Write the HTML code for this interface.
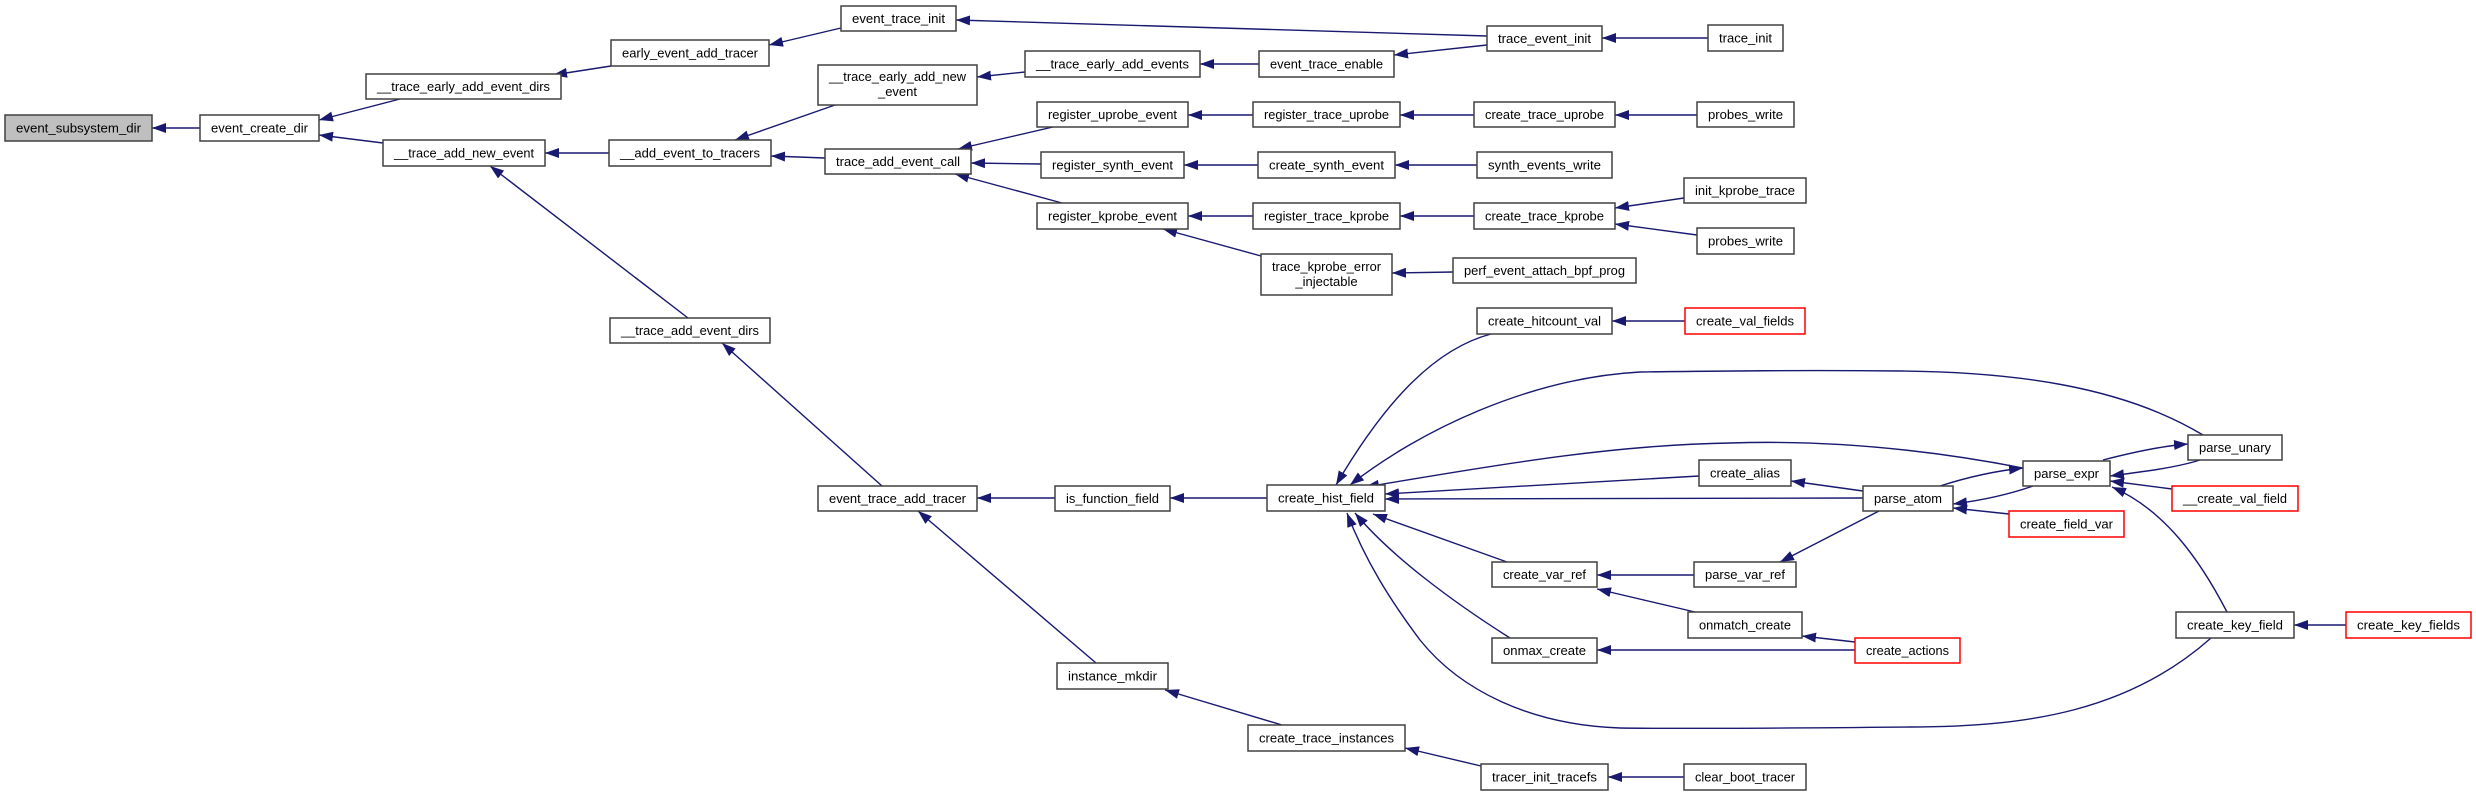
<!DOCTYPE html>
<html><head><meta charset="utf-8"><style>
html,body{margin:0;padding:0;background:#fff;}
svg{display:block;}
text{font-family:"Liberation Sans",sans-serif;font-size:13px;fill:#000;}
.n{fill:#fff;stroke:#404040;stroke-width:1.5;}
.g{fill:#bfbfbf;stroke:#404040;stroke-width:1.5;}
.r{fill:#fff;stroke:#ff0000;stroke-width:1.5;}
.e{fill:none;stroke:#191970;stroke-width:1.4;marker-end:url(#a);}
</style></head><body>
<svg width="2476" height="796" viewBox="0 0 2476 796" xmlns="http://www.w3.org/2000/svg">
<defs><marker id="a" markerUnits="userSpaceOnUse" markerWidth="14" markerHeight="10" viewBox="0 0 14 10" refX="14" refY="5" orient="auto"><path d="M0,0 L14,5 L0,10 z" fill="#191970"/></marker></defs>
<g>
<path class="e" d="M200,128 L152,128"/>
<path class="e" d="M400,99 L319,120"/>
<path class="e" d="M383,143 L319,135"/>
<path class="e" d="M611,66 L553,75"/>
<path class="e" d="M841,28 L769,45"/>
<path class="e" d="M1487,36 L956,20"/>
<path class="e" d="M1708,38 L1602,38"/>
<path class="e" d="M1487,45 L1394,55"/>
<path class="e" d="M1259,64 L1200,64"/>
<path class="e" d="M1025,72 L977,77"/>
<path class="e" d="M835,105 L735,140"/>
<path class="e" d="M609,153 L545,153"/>
<path class="e" d="M825,158 L771,156"/>
<path class="e" d="M1053,127 L958,149"/>
<path class="e" d="M1041,164 L971,163"/>
<path class="e" d="M1062,203 L955,174"/>
<path class="e" d="M1253,115 L1188,115"/>
<path class="e" d="M1474,115 L1400,115"/>
<path class="e" d="M1697,115 L1615,115"/>
<path class="e" d="M1258,165 L1184,165"/>
<path class="e" d="M1477,165 L1395,165"/>
<path class="e" d="M1253,216 L1188,216"/>
<path class="e" d="M1474,216 L1400,216"/>
<path class="e" d="M1684,198 L1615,208"/>
<path class="e" d="M1697,235 L1615,224"/>
<path class="e" d="M1261,256 L1163,229"/>
<path class="e" d="M1453,272 L1392,273"/>
<path class="e" d="M688,318 L490,166"/>
<path class="e" d="M882,486 L722,343"/>
<path class="e" d="M1055,498 L977,498"/>
<path class="e" d="M1267,498 L1170,498"/>
<path class="e" d="M1096,663 L918,511"/>
<path class="e" d="M1282,725 L1165,690"/>
<path class="e" d="M1481,766 L1405,748"/>
<path class="e" d="M1684,777 L1608,777"/>
<path class="e" d="M1491,334 C1430,350 1380,410 1336,485"/>
<path class="e" d="M1685,321 L1612,321"/>
<path class="e" d="M2203,435 C2120,385 2010,372 1900,371 C1800,370 1720,371 1640,372 C1530,378 1420,430 1350,485"/>
<path class="e" d="M2023,468 C1920,448 1820,440 1730,443 C1600,445 1470,470 1365,487"/>
<path class="e" d="M1699,476 L1385,494"/>
<path class="e" d="M1863,498 L1385,499"/>
<path class="e" d="M1507,562 L1373,514"/>
<path class="e" d="M1510,638 C1450,600 1390,555 1355,513"/>
<path class="e" d="M2211,638 C2130,710 2030,727 1910,727 C1800,728 1680,729 1620,728 C1530,725 1460,690 1420,640 C1390,600 1365,560 1347,513"/>
<path class="e" d="M1863,491 L1791,481"/>
<path class="e" d="M2033,486 C2010,494 1985,500 1953,504"/>
<path class="e" d="M1940,486 C1965,478 1995,471 2023,468"/>
<path class="e" d="M2103,460 C2130,453 2160,446 2188,444"/>
<path class="e" d="M2200,460 C2175,468 2140,472 2110,476"/>
<path class="e" d="M2172,489 L2110,481"/>
<path class="e" d="M2227,612 C2200,560 2165,510 2112,487"/>
<path class="e" d="M2009,514 L1953,508"/>
<path class="e" d="M1879,511 L1780,562"/>
<path class="e" d="M1695,575 L1597,575"/>
<path class="e" d="M1695,612 L1597,589"/>
<path class="e" d="M1855,642 L1802,636"/>
<path class="e" d="M1855,650 L1597,650"/>
<path class="e" d="M2346,625 L2294,625"/>
</g>
<g>
<rect class="g" x="5" y="115" width="147" height="26"/><text x="78.5" y="132.5" text-anchor="middle" textLength="125" lengthAdjust="spacingAndGlyphs">event_subsystem_dir</text>
<rect class="n" x="200" y="115" width="119" height="26"/><text x="259.5" y="132.5" text-anchor="middle" textLength="97" lengthAdjust="spacingAndGlyphs">event_create_dir</text>
<rect class="n" x="366" y="74" width="195" height="25"/><text x="463.5" y="91" text-anchor="middle" textLength="173" lengthAdjust="spacingAndGlyphs">__trace_early_add_event_dirs</text>
<rect class="n" x="611" y="40" width="158" height="26"/><text x="690" y="57.5" text-anchor="middle" textLength="136" lengthAdjust="spacingAndGlyphs">early_event_add_tracer</text>
<rect class="n" x="383" y="140" width="162" height="26"/><text x="464" y="157.5" text-anchor="middle" textLength="140" lengthAdjust="spacingAndGlyphs">__trace_add_new_event</text>
<rect class="n" x="609" y="140" width="162" height="26"/><text x="690" y="157.5" text-anchor="middle" textLength="140" lengthAdjust="spacingAndGlyphs">__add_event_to_tracers</text>
<rect class="n" x="610" y="318" width="160" height="25"/><text x="690" y="335" text-anchor="middle" textLength="138" lengthAdjust="spacingAndGlyphs">__trace_add_event_dirs</text>
<rect class="n" x="841" y="6" width="115" height="25"/><text x="898.5" y="23" text-anchor="middle" textLength="93" lengthAdjust="spacingAndGlyphs">event_trace_init</text>
<rect class="n" x="1487" y="26" width="115" height="25"/><text x="1544.5" y="43" text-anchor="middle" textLength="93" lengthAdjust="spacingAndGlyphs">trace_event_init</text>
<rect class="n" x="1025" y="51" width="175" height="26"/><text x="1112.5" y="68.5" text-anchor="middle" textLength="153" lengthAdjust="spacingAndGlyphs">__trace_early_add_events</text>
<rect class="n" x="1259" y="51" width="135" height="26"/><text x="1326.5" y="68.5" text-anchor="middle" textLength="113" lengthAdjust="spacingAndGlyphs">event_trace_enable</text>
<rect class="n" x="818" y="65" width="159" height="40"/><text x="897.5" y="81" text-anchor="middle" textLength="137" lengthAdjust="spacingAndGlyphs">__trace_early_add_new</text><text x="897.5" y="96" text-anchor="middle">_event</text>
<rect class="n" x="1037" y="102" width="151" height="25"/><text x="1112.5" y="119" text-anchor="middle" textLength="129" lengthAdjust="spacingAndGlyphs">register_uprobe_event</text>
<rect class="n" x="1253" y="102" width="147" height="25"/><text x="1326.5" y="119" text-anchor="middle" textLength="125" lengthAdjust="spacingAndGlyphs">register_trace_uprobe</text>
<rect class="n" x="1474" y="102" width="141" height="25"/><text x="1544.5" y="119" text-anchor="middle" textLength="119" lengthAdjust="spacingAndGlyphs">create_trace_uprobe</text>
<rect class="n" x="825" y="149" width="146" height="25"/><text x="898" y="166" text-anchor="middle" textLength="124" lengthAdjust="spacingAndGlyphs">trace_add_event_call</text>
<rect class="n" x="1041" y="152" width="143" height="26"/><text x="1112.5" y="169.5" text-anchor="middle" textLength="121" lengthAdjust="spacingAndGlyphs">register_synth_event</text>
<rect class="n" x="1258" y="152" width="137" height="26"/><text x="1326.5" y="169.5" text-anchor="middle" textLength="115" lengthAdjust="spacingAndGlyphs">create_synth_event</text>
<rect class="n" x="1477" y="152" width="135" height="26"/><text x="1544.5" y="169.5" text-anchor="middle" textLength="113" lengthAdjust="spacingAndGlyphs">synth_events_write</text>
<rect class="n" x="1037" y="203" width="151" height="26"/><text x="1112.5" y="220.5" text-anchor="middle" textLength="129" lengthAdjust="spacingAndGlyphs">register_kprobe_event</text>
<rect class="n" x="1253" y="203" width="147" height="26"/><text x="1326.5" y="220.5" text-anchor="middle" textLength="125" lengthAdjust="spacingAndGlyphs">register_trace_kprobe</text>
<rect class="n" x="1474" y="203" width="141" height="26"/><text x="1544.5" y="220.5" text-anchor="middle" textLength="119" lengthAdjust="spacingAndGlyphs">create_trace_kprobe</text>
<rect class="n" x="1261" y="254" width="131" height="41"/><text x="1326.5" y="271" text-anchor="middle" textLength="109" lengthAdjust="spacingAndGlyphs">trace_kprobe_error</text><text x="1326.5" y="286" text-anchor="middle">_injectable</text>
<rect class="n" x="1453" y="258" width="183" height="25"/><text x="1544.5" y="275" text-anchor="middle" textLength="161" lengthAdjust="spacingAndGlyphs">perf_event_attach_bpf_prog</text>
<rect class="n" x="1477" y="308" width="135" height="26"/><text x="1544.5" y="325.5" text-anchor="middle" textLength="113" lengthAdjust="spacingAndGlyphs">create_hitcount_val</text>
<rect class="n" x="1708" y="25" width="75" height="26"/><text x="1745.5" y="42.5" text-anchor="middle" textLength="53" lengthAdjust="spacingAndGlyphs">trace_init</text>
<rect class="n" x="1697" y="102" width="97" height="25"/><text x="1745.5" y="119" text-anchor="middle" textLength="75" lengthAdjust="spacingAndGlyphs">probes_write</text>
<rect class="n" x="1684" y="178" width="122" height="25"/><text x="1745" y="195" text-anchor="middle" textLength="100" lengthAdjust="spacingAndGlyphs">init_kprobe_trace</text>
<rect class="n" x="1697" y="228" width="97" height="26"/><text x="1745.5" y="245.5" text-anchor="middle" textLength="75" lengthAdjust="spacingAndGlyphs">probes_write</text>
<rect class="r" x="1685" y="308" width="120" height="26"/><text x="1745" y="325.5" text-anchor="middle" textLength="98" lengthAdjust="spacingAndGlyphs">create_val_fields</text>
<rect class="n" x="818" y="486" width="159" height="25"/><text x="897.5" y="503" text-anchor="middle" textLength="137" lengthAdjust="spacingAndGlyphs">event_trace_add_tracer</text>
<rect class="n" x="1055" y="486" width="115" height="25"/><text x="1112.5" y="503" text-anchor="middle" textLength="93" lengthAdjust="spacingAndGlyphs">is_function_field</text>
<rect class="n" x="1057" y="663" width="111" height="26"/><text x="1112.5" y="680.5" text-anchor="middle" textLength="89" lengthAdjust="spacingAndGlyphs">instance_mkdir</text>
<rect class="n" x="1267" y="485" width="118" height="26"/><text x="1326" y="502.5" text-anchor="middle" textLength="96" lengthAdjust="spacingAndGlyphs">create_hist_field</text>
<rect class="n" x="1248" y="725" width="157" height="26"/><text x="1326.5" y="742.5" text-anchor="middle" textLength="135" lengthAdjust="spacingAndGlyphs">create_trace_instances</text>
<rect class="n" x="1481" y="764" width="127" height="26"/><text x="1544.5" y="781.5" text-anchor="middle" textLength="105" lengthAdjust="spacingAndGlyphs">tracer_init_tracefs</text>
<rect class="n" x="1684" y="764" width="122" height="26"/><text x="1745" y="781.5" text-anchor="middle" textLength="100" lengthAdjust="spacingAndGlyphs">clear_boot_tracer</text>
<rect class="n" x="1699" y="460" width="92" height="26"/><text x="1745" y="477.5" text-anchor="middle" textLength="70" lengthAdjust="spacingAndGlyphs">create_alias</text>
<rect class="n" x="1863" y="486" width="90" height="25"/><text x="1908" y="503" text-anchor="middle" textLength="68" lengthAdjust="spacingAndGlyphs">parse_atom</text>
<rect class="n" x="2023" y="461" width="87" height="25"/><text x="2066.5" y="478" text-anchor="middle" textLength="65" lengthAdjust="spacingAndGlyphs">parse_expr</text>
<rect class="n" x="2188" y="435" width="94" height="25"/><text x="2235" y="452" text-anchor="middle" textLength="72" lengthAdjust="spacingAndGlyphs">parse_unary</text>
<rect class="r" x="2172" y="486" width="126" height="25"/><text x="2235" y="503" text-anchor="middle" textLength="104" lengthAdjust="spacingAndGlyphs">__create_val_field</text>
<rect class="r" x="2009" y="511" width="115" height="26"/><text x="2066.5" y="528.5" text-anchor="middle" textLength="93" lengthAdjust="spacingAndGlyphs">create_field_var</text>
<rect class="n" x="1492" y="562" width="105" height="25"/><text x="1544.5" y="579" text-anchor="middle" textLength="83" lengthAdjust="spacingAndGlyphs">create_var_ref</text>
<rect class="n" x="1694" y="562" width="102" height="25"/><text x="1745" y="579" text-anchor="middle" textLength="80" lengthAdjust="spacingAndGlyphs">parse_var_ref</text>
<rect class="n" x="1688" y="612" width="114" height="26"/><text x="1745" y="629.5" text-anchor="middle" textLength="92" lengthAdjust="spacingAndGlyphs">onmatch_create</text>
<rect class="n" x="1492" y="638" width="105" height="25"/><text x="1544.5" y="655" text-anchor="middle" textLength="83" lengthAdjust="spacingAndGlyphs">onmax_create</text>
<rect class="r" x="1855" y="638" width="105" height="25"/><text x="1907.5" y="655" text-anchor="middle" textLength="83" lengthAdjust="spacingAndGlyphs">create_actions</text>
<rect class="n" x="2176" y="612" width="118" height="26"/><text x="2235" y="629.5" text-anchor="middle" textLength="96" lengthAdjust="spacingAndGlyphs">create_key_field</text>
<rect class="r" x="2346" y="612" width="125" height="26"/><text x="2408.5" y="629.5" text-anchor="middle" textLength="103" lengthAdjust="spacingAndGlyphs">create_key_fields</text>
</g>
</svg>
</body></html>
